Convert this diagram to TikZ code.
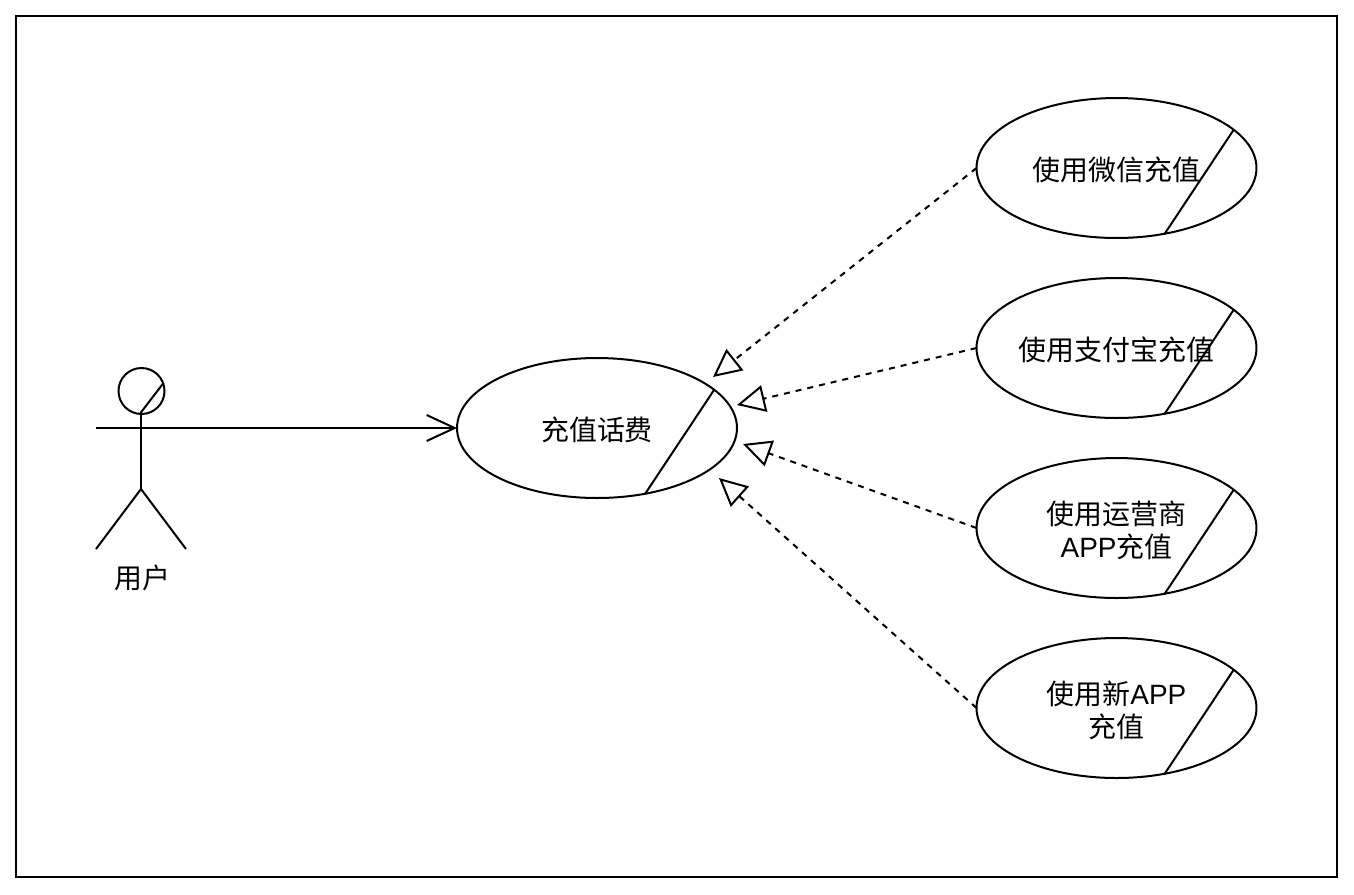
\documentclass[tikz,border=0pt]{standalone}
\usepackage{fontspec}
\setmainfont{Noto Sans CJK SC}
\newfontfamily\latin{Liberation Sans}
\usetikzlibrary{arrows.meta,shapes.geometric}
\tikzset{
  line/.style={line width=0.04cm},
  usecase/.style={draw,line,ellipse,minimum width=5.6cm,minimum height=2.8cm,inner sep=0pt,outer sep=0pt},
  caption/.style={align=center,yshift=-0.04cm,font=\fontsize{15.9}{18.7}\selectfont},
  realize/.style={line,dash pattern=on 0.12cm off 0.12cm,-{Triangle[open,length=0.56cm,width=0.54cm,line width=0.04cm]}},
  assoc/.style={line,-{Straight Barb[length=0.56cm,width=0.52cm,line width=0.04cm]}},
}
\begin{document}
\begin{tikzpicture}[x=0.02cm,y=-0.02cm]
      \useasboundingbox (0, 0) rectangle (1354, 894);
      %% bounding box
      \draw [line] (16, 16) rectangle (1337, 876.5);
      %% actor
      \node [draw, line, circle, minimum size=0.92cm, inner sep=0pt, outer sep=0pt] (head) at (141.5, 391) {};
      \coordinate (neck) at (141, 414);
      \coordinate (hip) at (141, 489);
      \coordinate (larm) at (96, 428);
      \coordinate (rarm) at (186, 428);
      \coordinate (lfoot) at (96, 549);
      \coordinate (rfoot) at (186, 549);
      \node [font=\fontsize{15.9}{18.7}\selectfont] (user) at (142.5, 578) {用户};
      \draw [line] (neck) -- (hip);
      \draw [line] (larm) -- (rarm);
      \draw [line] (lfoot) -- (hip) -- (rfoot);
      \draw [line] ([shift={(22, -8)}]head.center) -- ([shift={(-1, 22)}]head.center);
      %% use cases
      \node [usecase, label={[caption]center:充值话费}] (recharge) at (597, 428) {};
      \node [usecase, label={[caption]center:使用微信充值}] (wechat) at (1116.5, 168) {};
      \node [usecase, label={[caption]center:使用支付宝充值}] (alipay) at (1116.5, 348) {};
      \node [usecase, label={[caption]center:使用运营商\\{\latin APP}充值}] (carrier) at (1116.5, 528) {};
      \node [usecase, label={[caption]center:使用新{\latin APP}\\充值}] (newapp) at (1116.5, 708) {};
      \foreach \n in {recharge, wechat, alipay, carrier, newapp}
        \draw [line] ([shift={(117, -38)}]\n.center) -- ([shift={(48, 66)}]\n.center);
      %% arrows
      \coordinate (tipa) at (713, 377);
      \coordinate (tipb) at (737, 405);
      \coordinate (tipc) at (743, 444);
      \coordinate (tipd) at (719, 478);
      \draw [assoc] (rarm) -- (recharge.west);
      \draw [realize] (wechat.west) -- (tipa);
      \draw [realize] (alipay.west) -- (tipb);
      \draw [realize] (carrier.west) -- (tipc);
      \draw [realize] (newapp.west) -- (tipd);
    \end{tikzpicture}
\end{document}
